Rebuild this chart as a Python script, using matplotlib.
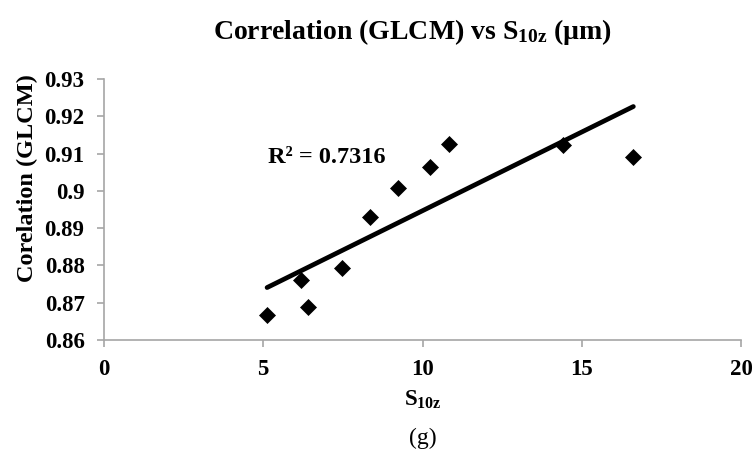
import numpy as np
import matplotlib
matplotlib.use("Agg")
import matplotlib.pyplot as plt

# Data
s10z = [5.12, 6.17, 6.39, 7.46, 8.35, 9.22, 10.25, 10.84, 14.42, 16.62]
correlation = [0.8667, 0.8761, 0.8689, 0.8792, 0.8929, 0.9007, 0.9065, 0.9125, 0.9123, 0.9091]
x_ticks = [0, 5, 10, 15, 20]
y_ticks = [0.86, 0.87, 0.88, 0.89, 0.90, 0.91, 0.92, 0.93]
y_tick_labels = ["0.86", "0.87", "0.88", "0.89", "0.9", "0.91", "0.92", "0.93"]
r2_text = "R² = 0.7316"

plt.rcParams['font.family'] = ['Liberation Serif', 'DejaVu Serif']
plt.rcParams['mathtext.fontset'] = 'custom'
plt.rcParams['mathtext.rm'] = 'Liberation Serif:bold'
plt.rcParams['mathtext.bf'] = 'Liberation Serif:bold'
plt.rcParams['mathtext.it'] = 'Liberation Serif:bold'

W, H = 755, 463
fig = plt.figure(figsize=(W/100, H/100), dpi=100)
ax = fig.add_axes([104/W, 1-340/H, (741-104)/W, (340-79)/H])

x = np.array(s10z)
y = np.array(correlation)
ax.plot(x, y, linestyle='none', marker='D', markersize=8.3, color='black', mew=0.5)

coef = np.polyfit(x, y, 1)
xf = np.array([x.min(), x.max()])
ax.plot(xf, np.polyval(coef, xf), color='black', lw=3.4, solid_capstyle='round')

ax.set_xlim(0, 20)
ax.set_ylim(0.86, 0.93)
ax.set_xticks(x_ticks)
ax.set_xticklabels([str(t) for t in x_ticks])
ax.set_yticks(y_ticks)
ax.set_yticklabels(y_tick_labels)

grey = '#A6A6A6'
for side in ['top', 'right']:
    ax.spines[side].set_visible(False)
for side in ['left', 'bottom']:
    ax.spines[side].set_color(grey)
    ax.spines[side].set_linewidth(1.2)
ax.tick_params(axis='both', direction='out', length=5, width=1.2, color=grey,
               labelsize=16.5, pad=9)
for lab in ax.get_xticklabels() + ax.get_yticklabels():
    lab.set_fontweight('bold')

fig.text(27/W, 1-178/H, "Corelation (GLCM)", rotation=90, ha='center', va='center',
         fontsize=17.5, fontweight='bold')

fig.text(423/W, 1-400/H, r"S$_{\mathbf{10z}}$", ha='center', va='center',
         fontsize=16.5, fontweight='bold')
fig.text(423/W, 1-438/H, "(g)", ha='center', va='center', fontsize=17)
fig.text(412/W, 1-32/H, r"Correlation (GLCM) vs S$_{\mathbf{10z}}$ (µm)",
         ha='center', va='center', fontsize=20, fontweight='bold')

fig.text(268/W, 1-163/H, r2_text, ha='left', va='baseline', fontsize=17.5,
         fontweight='bold')

fig.savefig("out.png", dpi=100)
